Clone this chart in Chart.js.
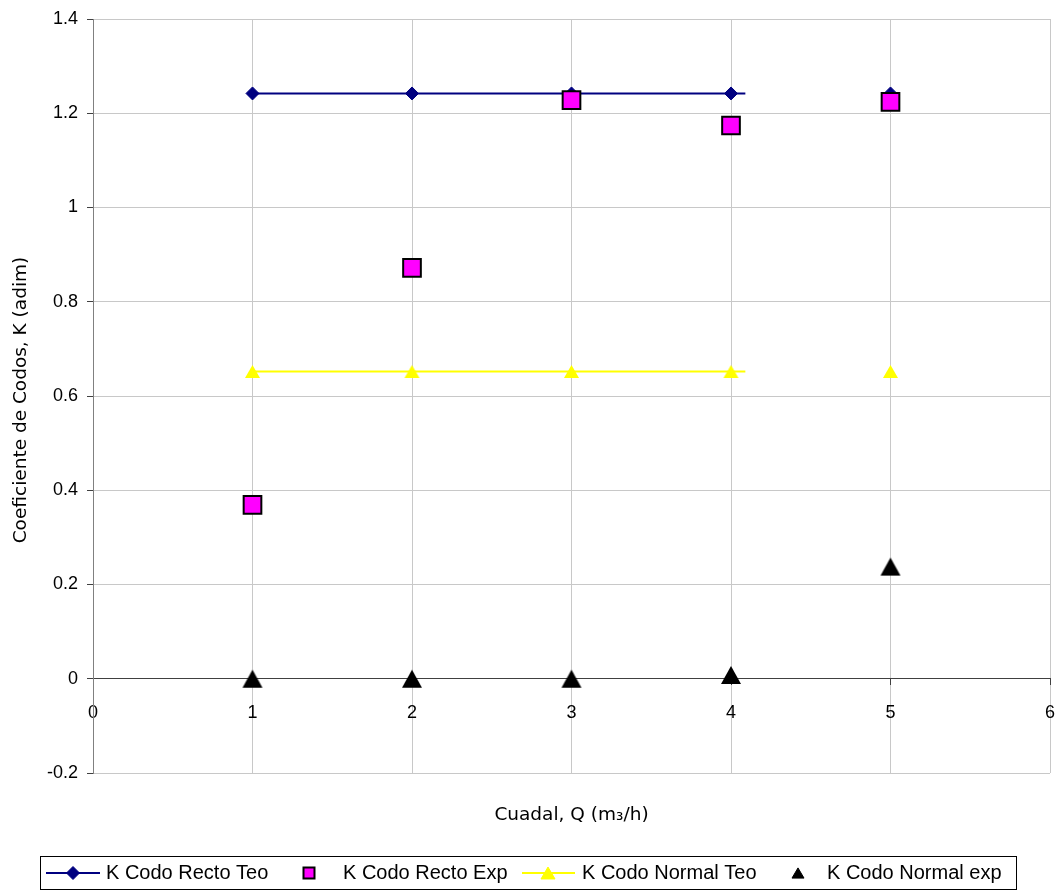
<!DOCTYPE html>
<html>
<head>
<meta charset="utf-8">
<script src="https://cdn.jsdelivr.net/npm/chart.js@4/dist/chart.umd.min.js"></script>
<style>
  html, body { margin: 0; padding: 0; background: #fff; }
  #wrap { position: relative; width: 1061px; height: 895px; }
</style>
</head>
<body>
<div id="wrap"><canvas id="c" width="1061" height="895"></canvas></div>
<script>
// Caudal (m3/h) and elbow loss coefficients K
const caudal      = [1, 2, 3, 4, 5];
const kRectoTeo   = [1.242, 1.242, 1.242, 1.242, 1.242];
const kRectoExp   = [0.369, 0.872, 1.228, 1.174, 1.224];
const kNormalTeo  = [0.652, 0.652, 0.652, 0.652, 0.652];
const kNormalExp  = [0.0, 0.0, 0.0, 0.008, 0.238];
const teoLineEnd  = 4.09;   // the theoretical lines stop just past Q = 4
const seriesNames = ['K Codo Recto Teo', 'K Codo Recto Exp', 'K Codo Normal Teo', 'K Codo Normal exp'];
const xTitle = 'Cuadal, Q (m\u2083/h)';
const yTitle = 'Coeficiente de Codos, K (adim)';
const xRange = [0, 6];
const yRange = [-0.2, 1.4];

const pts = (xs, ys) => xs.map((x, i) => ({ x, y: ys[i] }));

// theoretical series: line over the first four points, last point shown alone
function teoPoints(ys) {
  const p = pts(caudal.slice(0, 4), ys.slice(0, 4));
  p.push({ x: teoLineEnd, y: ys[3] });
  p.push({ x: (teoLineEnd + caudal[4]) / 2, y: null });
  p.push({ x: caudal[4], y: ys[4] });
  return p;
}
const teoRadius = r => [r, r, r, r, 0, 0, r];

const LABEL_FONT = 'Liberation Sans, Arial, sans-serif';
const TITLE_FONT = 'DejaVu Sans, Verdana, sans-serif';

// triangle marker centred on its bounding box
function triangleSprite(w, h, fill) {
  const c = document.createElement('canvas');
  c.width = w + 2; c.height = h + 2;
  const g = c.getContext('2d');
  g.beginPath();
  g.moveTo(1 + w / 2, 1);
  g.lineTo(1 + w, 1 + h);
  g.lineTo(1, 1 + h);
  g.closePath();
  g.fillStyle = fill;
  g.fill();
  return c;
}
const blackTri  = triangleSprite(20, 18, '#000000');
const yellowTri = triangleSprite(15, 13, '#FFFF00');

function drawMarker(ctx, style, x, y, r, fill, stroke, lw) {
  ctx.save();
  ctx.beginPath();
  if (style === 'diamond') {
    ctx.moveTo(x - r, y); ctx.lineTo(x, y - r); ctx.lineTo(x + r, y); ctx.lineTo(x, y + r);
  } else if (style === 'square') {
    ctx.rect(x - r, y - r, 2 * r, 2 * r);
  } else if (style === 'triangle') {
    ctx.moveTo(x, y - r * 0.85); ctx.lineTo(x + r, y + r * 0.85); ctx.lineTo(x - r, y + r * 0.85);
  }
  ctx.closePath();
  ctx.fillStyle = fill; ctx.fill();
  ctx.lineWidth = lw; ctx.strokeStyle = stroke; ctx.stroke();
  ctx.restore();
}

const annotations = {
  id: 'annotations',
  afterDraw(chart) {
    const ctx = chart.ctx;
    const ca = chart.chartArea;
    ctx.save();
    // axis titles
    ctx.fillStyle = '#000';
    ctx.textAlign = 'center';
    ctx.textBaseline = 'middle';
    ctx.font = '18.5px ' + TITLE_FONT;
    ctx.fillText(xTitle, (ca.left + ca.right) / 2, 815);
    ctx.save();
    ctx.translate(21, 400);
    ctx.rotate(-Math.PI / 2);
    ctx.fillText(yTitle, 0, 0);
    ctx.restore();

    // legend box
    ctx.strokeStyle = '#000';
    ctx.lineWidth = 1;
    ctx.strokeRect(40.5, 856.5, 976, 33);
    const cy = 873;
    ctx.font = '20px ' + LABEL_FONT;
    ctx.textAlign = 'left';
    ctx.fillStyle = '#000';

    // 1: line + diamond
    ctx.strokeStyle = '#000080'; ctx.lineWidth = 2;
    ctx.beginPath(); ctx.moveTo(46, cy); ctx.lineTo(100, cy); ctx.stroke();
    drawMarker(ctx, 'diamond', 73, cy, 6.5, '#000080', '#000080', 1);
    ctx.fillText(seriesNames[0], 106, cy);
    // 2: square
    drawMarker(ctx, 'square', 309, cy, 5.5, '#FF00FF', '#000', 2);
    ctx.fillText(seriesNames[1], 343, cy);
    // 3: yellow line + triangle
    ctx.strokeStyle = '#FFFF00'; ctx.lineWidth = 2;
    ctx.beginPath(); ctx.moveTo(522, cy); ctx.lineTo(575, cy); ctx.stroke();
    drawMarker(ctx, 'triangle', 548, cy, 7, '#FFFF00', '#FFFF00', 1);
    ctx.fillStyle = '#000';
    ctx.fillText(seriesNames[2], 582, cy);
    // 4: black triangle
    drawMarker(ctx, 'triangle', 798, cy, 6, '#000', '#000', 1);
    ctx.fillStyle = '#000';
    ctx.fillText(seriesNames[3], 827, cy);
    ctx.restore();
  }
};

const whiteBg = {
  id: 'whiteBg',
  beforeDraw(chart) {
    const ctx = chart.ctx;
    ctx.save();
    ctx.fillStyle = '#fff';
    ctx.fillRect(0, 0, chart.width, chart.height);
    ctx.restore();
  }
};

// the x axis sits inside the plot at y = 0, so it must not reserve side margins
const noSidePadding = s => {
  s.paddingLeft = 0;
  s.paddingRight = 0;
};

new Chart(document.getElementById('c'), {
  type: 'scatter',
  data: {
    datasets: [
      {
        label: seriesNames[0],
        data: teoPoints(kRectoTeo),
        showLine: true,
        spanGaps: false,
        borderColor: '#000080',
        borderWidth: 2,
        pointStyle: 'rectRot',
        pointRadius: teoRadius(6.5),
        pointBackgroundColor: '#000080',
        pointBorderColor: '#000080',
        pointBorderWidth: 1,
        order: 3
      },
      {
        label: seriesNames[1],
        data: pts(caudal, kRectoExp),
        showLine: false,
        pointStyle: 'rect',
        pointRadius: 12.5,
        pointBackgroundColor: '#FF00FF',
        pointBorderColor: '#000000',
        pointBorderWidth: 2,
        order: 2
      },
      {
        label: seriesNames[2],
        data: teoPoints(kNormalTeo),
        showLine: true,
        spanGaps: false,
        borderColor: '#FFFF00',
        borderWidth: 2,
        pointStyle: yellowTri,
        pointRadius: teoRadius(8),
        order: 1
      },
      {
        label: seriesNames[3],
        data: pts(caudal, kNormalExp),
        showLine: false,
        pointStyle: blackTri,
        pointRadius: 12,
        order: 0
      }
    ]
  },
  options: {
    responsive: false,
    animation: false,
    events: [],
    layout: { autoPadding: false, padding: { top: 19, right: 11, bottom: 122, left: 0 } },
    plugins: { legend: { display: false }, tooltip: { enabled: false } },
    scales: {
      x: {
        type: 'linear',
        min: xRange[0],
        max: xRange[1],
        position: { y: 0 },
        afterFit: noSidePadding,
        ticks: {
          stepSize: 1,
          color: '#000',
          font: { family: LABEL_FONT, size: 18 },
          padding: 17,
          maxRotation: 0,
          callback: v => String(v)
        },
        grid: {
          color: c => (c.tick && c.tick.value === 0) ? '#808080' : '#c8c8c8',
          lineWidth: 1,
          tickLength: 6,
          tickColor: '#404040'
        },
        border: { color: '#404040', width: 1 }
      },
      y: {
        type: 'linear',
        min: yRange[0],
        max: yRange[1],
        afterFit: s => { s.width = 93; s.paddingTop = 0; s.paddingBottom = 0; },
        ticks: {
          stepSize: 0.2,
          color: '#000',
          font: { family: LABEL_FONT, size: 18 },
          padding: 9,
          callback: v => String(+v.toFixed(1))
        },
        grid: {
          color: c => (c.tick && Math.abs(c.tick.value) < 1e-9) ? '#404040' : '#c8c8c8',
          lineWidth: 1,
          tickLength: 6,
          tickColor: '#404040'
        },
        border: { color: '#808080', width: 1 }
      }
    }
  },
  plugins: [whiteBg, annotations]
});
</script>
</body>
</html>
